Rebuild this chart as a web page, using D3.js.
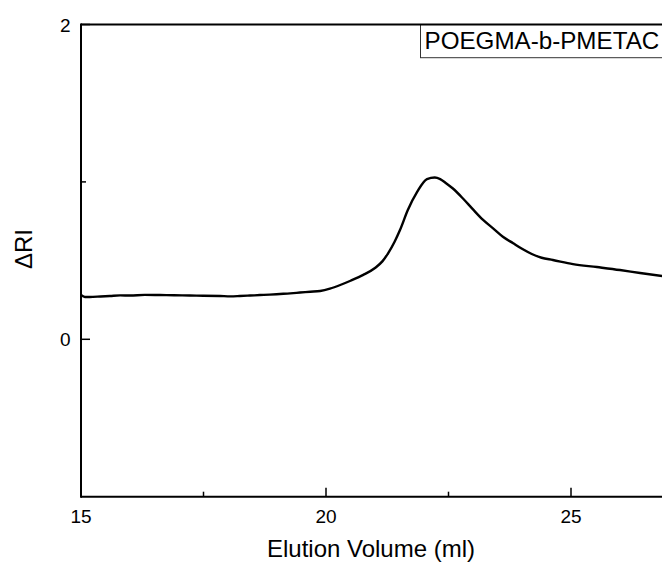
<!DOCTYPE html>
<html><head><meta charset="utf-8">
<script src="https://cdn.jsdelivr.net/npm/d3@7"></script>
<style>body{margin:0;background:#fff}svg{display:block}text{font-family:"Liberation Sans",Arial,sans-serif;fill:#000}</style>
</head><body><div id="c"></div>
<script>
const elution = [15.0,15.08,15.18,15.4,15.59,15.8,16.0,16.3,16.61,16.9,17.22,17.5,17.84,18.05,18.24,18.45,18.65,18.85,19.06,19.27,19.47,19.68,19.88,20.08,20.29,20.5,20.76,21.0,21.15,21.27,21.4,21.51,21.67,21.86,22.06,22.22,22.33,22.45,22.59,22.80,23.0,23.2,23.41,23.61,23.82,24.0,24.2,24.4,24.63,25.04,25.53,26.0,26.41,26.86];
const deltaRI = [0.281,0.269,0.269,0.272,0.275,0.279,0.278,0.282,0.281,0.280,0.278,0.277,0.275,0.273,0.275,0.278,0.281,0.284,0.288,0.292,0.297,0.302,0.307,0.322,0.345,0.372,0.409,0.453,0.495,0.548,0.620,0.694,0.821,0.936,1.018,1.028,1.018,0.992,0.958,0.893,0.825,0.760,0.705,0.652,0.610,0.575,0.542,0.518,0.504,0.478,0.459,0.440,0.421,0.402];
const xTicks = [15,20,25];
const xMinor = [17.5,22.5];
const yTicks = [0,2];
const yMinor = [1];
const legendLabel = "POEGMA-b-PMETAC";

const W=662,H=565;
const svg=d3.select("#c").append("svg").attr("width",W).attr("height",H);
const x=d3.scaleLinear().domain([15,27]).range([81,669]);
const y=d3.scaleLinear().domain([-1,2]).range([496.7,24.5]);

svg.append("line").attr("x1",x(15)).attr("x2",W+5).attr("y1",y(-1)).attr("y2",y(-1)).attr("stroke","#000").attr("stroke-width",2);
svg.append("line").attr("x1",x(15)).attr("x2",x(15)).attr("y1",y(2)-1).attr("y2",y(-1)+1).attr("stroke","#000").attr("stroke-width",2);

xTicks.forEach(t=>{
  svg.append("line").attr("x1",x(t)).attr("x2",x(t)).attr("y1",y(-1)).attr("y2",y(-1)-9).attr("stroke","#000").attr("stroke-width",1.5);
  svg.append("text").attr("x",x(t)).attr("y",523).attr("text-anchor","middle").attr("font-size",19).text(t);
});
xMinor.forEach(t=>{
  svg.append("line").attr("x1",x(t)).attr("x2",x(t)).attr("y1",y(-1)).attr("y2",y(-1)-5).attr("stroke","#000").attr("stroke-width",1.5);
});
yTicks.forEach(t=>{
  svg.append("line").attr("x1",x(15)).attr("x2",x(15)+9).attr("y1",y(t)).attr("y2",y(t)).attr("stroke","#000").attr("stroke-width",1.5);
  svg.append("text").attr("x",70.5).attr("y",y(t)+7).attr("text-anchor","end").attr("font-size",19).text(t);
});
yMinor.forEach(t=>{
  svg.append("line").attr("x1",x(15)).attr("x2",x(15)+5).attr("y1",y(t)).attr("y2",y(t)).attr("stroke","#000").attr("stroke-width",1.5);
});

svg.append("text").attr("x",371).attr("y",557).attr("text-anchor","middle").attr("font-size",24).text("Elution Volume (ml)");
svg.append("text").attr("transform","translate(32,249) rotate(-90)").attr("text-anchor","middle").attr("font-size",24).text("ΔRI");

const line=d3.line().x((d,i)=>x(elution[i])).y(d=>y(d)).curve(d3.curveMonotoneX);
svg.append("path").datum(deltaRI).attr("d",line).attr("fill","none").attr("stroke","#000").attr("stroke-width",2.4).attr("stroke-linejoin","round");

svg.append("rect").attr("x",420.5).attr("y",y(2)).attr("width",260).attr("height",57.7-y(2)).attr("fill","#fff").attr("stroke","#333").attr("stroke-width",1);
svg.append("line").attr("x1",x(15)).attr("x2",W+5).attr("y1",y(2)).attr("y2",y(2)).attr("stroke","#000").attr("stroke-width",2);
svg.append("text").attr("x",424.5).attr("y",48.5).attr("font-size",24.2).text(legendLabel);
</script></body></html>
